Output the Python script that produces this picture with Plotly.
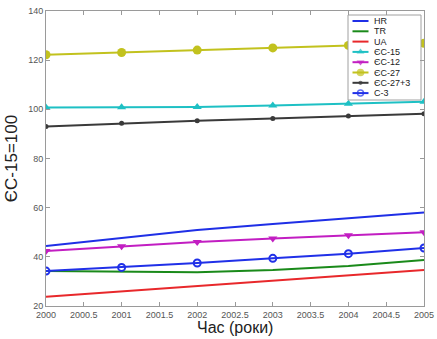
import plotly.graph_objects as go

years = [2000, 2001, 2002, 2003, 2004, 2005]
x_ticks = [2000, 2000.5, 2001, 2001.5, 2002, 2002.5, 2003, 2003.5, 2004, 2004.5, 2005]
x_tick_labels = ["2000", "2000.5", "2001", "2001.5", "2002", "2002.5",
                 "2003", "2003.5", "2004", "2004.5", "2005"]

hr = [44.4, 47.5, 50.9, 53.4, 55.7, 58.0]
tr = [34.2, 33.8, 33.7, 34.6, 36.3, 38.7]
ua = [23.8, 26.0, 28.2, 30.3, 32.5, 34.6]
ec15 = [100.7, 100.8, 101.0, 101.6, 102.3, 103.1]
ec12 = [42.4, 44.3, 46.0, 47.5, 48.8, 50.0]
ec27 = [122.2, 123.1, 124.1, 125.0, 126.0, 126.9]
ec27p3 = [93.0, 94.3, 95.4, 96.3, 97.3, 98.2]
c3 = [34.2, 35.7, 37.5, 39.4, 41.3, 43.6]

names = ["HR", "TR", "UA", "ЄC-15", "ЄC-12", "ЄC-27", "ЄC-27+3", "C-3"]
series = [hr, tr, ua, ec15, ec12, ec27, ec27p3, c3]
colors = ["#1f2fe6", "#1a8a1a", "#e8282b", "#1ec0c4", "#c21ec2", "#c2c21e", "#3a3a3a", "#2030e8"]
symbols = [None, None, None, "triangle-up", "triangle-down", "circle", "circle", "circle-open"]
msizes = [0, 0, 0, 8, 8, 9, 5, 7]

FONT = "Liberation Sans, Arial, sans-serif"

fig = go.Figure()

for nm, ys, c, s, ms in zip(names, series, colors, symbols, msizes):
    if s is None:
        fig.add_trace(go.Scatter(x=years, y=ys, name=nm, mode="lines",
                                 line=dict(color=c, width=2), showlegend=False))
    else:
        fig.add_trace(go.Scatter(x=years, y=ys, name=nm, mode="lines+markers",
                                 line=dict(color=c, width=2),
                                 marker=dict(symbol=s, size=ms, color=c,
                                             line=dict(color=c, width=2 if s == "circle-open" else 0)),
                                 showlegend=False))

# custom compact legend drawn on an overlay axis (pixel-like units)
box_x = [348, 421, 421, 348, 348]
box_y = [15, 15, 100, 100, 15]
fig.add_trace(go.Scatter(x=box_x, y=box_y, xaxis="x2", yaxis="y2", mode="lines",
                         fill="toself", fillcolor="white",
                         line=dict(color="#a0a0a0", width=1), showlegend=False,
                         hoverinfo="skip"))
row0, rowstep = 21, 10.3
for i, (nm, c, s, ms) in enumerate(zip(names, colors, symbols, msizes)):
    ry = row0 + i * rowstep
    sizes = [0, ms * 0.85, 0]
    fig.add_trace(go.Scatter(x=[352.5, 360.5, 368.5], y=[ry, ry, ry], xaxis="x2", yaxis="y2",
                             mode="lines+markers" if s else "lines",
                             line=dict(color=c, width=2),
                             marker=dict(symbol=s or "circle", size=sizes, color=c,
                                         line=dict(color=c, width=1.5 if s == "circle-open" else 0)),
                             showlegend=False, hoverinfo="skip"))
    fig.add_annotation(x=372, y=ry, xref="x2", yref="y2", text=nm, showarrow=False,
                       xanchor="left", yanchor="middle",
                       font=dict(family=FONT, size=9, color="#222"))

# x-axis title as annotation (fits tightly at the bottom like the reference)
fig.add_annotation(x=0.5, y=-0.11, xref="paper", yref="paper", text="Час (роки)",
                   showarrow=False, xanchor="center", yanchor="bottom",
                   font=dict(family=FONT, size=16, color="#222"))

axis_common = dict(showgrid=False, zeroline=False, showline=True, linecolor="#9a9a9a",
                   linewidth=1, mirror="ticks", ticks="inside", ticklen=4, automargin=False,
                   tickcolor="#9a9a9a", tickfont=dict(family=FONT, size=9, color="#555"))

fig.update_layout(
    width=437, height=339,
    margin=dict(l=46, r=13, t=11, b=33),
    paper_bgcolor="white", plot_bgcolor="white",
    font=dict(family=FONT),
    xaxis=dict(range=[2000, 2005], tickmode="array", tickvals=x_ticks, ticktext=x_tick_labels,
               **axis_common),
    yaxis=dict(range=[20, 140], dtick=20, tick0=20,
               title=dict(text="ЄC-15=100", font=dict(family=FONT, size=17, color="#222"), standoff=6),
               **axis_common),
    xaxis2=dict(domain=[0, 1], range=[46, 424], overlaying="x", anchor="y2", visible=False),
    yaxis2=dict(domain=[0, 1], range=[306, 11], overlaying="y", anchor="x2", visible=False),
)

fig.write_html("out.html", config={"displayModeBar": False},
               post_script="document.body.style.margin='0';document.body.style.padding='0';")
